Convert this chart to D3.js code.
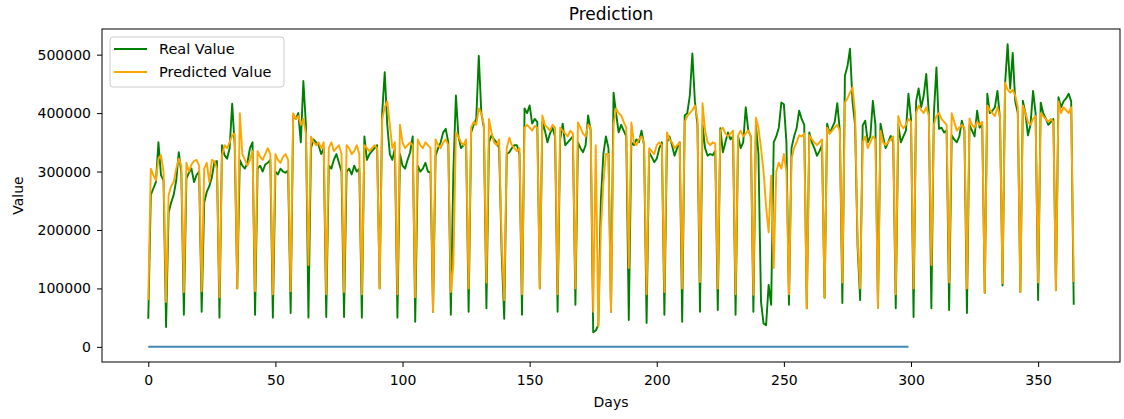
<!DOCTYPE html>
<html><head><meta charset="utf-8">
<script src="https://cdn.jsdelivr.net/npm/d3@7"></script>
<style>
body{margin:0;background:#fff}
svg{display:block}
text{font-family:"DejaVu Sans",sans-serif;fill:#000}
</style>
</head><body>
<svg id="chart" width="1124" height="419"></svg>
<script>
// ---------- data ----------
const realValues = [
48000,260000,271000,282000,350000,294000,285000,
34000,230000,247000,260000,285000,333000,298000,
55000,288000,298000,305000,282000,294000,300000,
60000,247000,265000,275000,290000,316000,318000,
50000,345000,328000,322000,340000,416000,345000,
100000,320000,310000,305000,315000,340000,350000,
55000,305000,310000,300000,312000,315000,320000,
50000,300000,295000,305000,300000,298000,302000,
58000,395000,390000,400000,350000,455000,380000,
50000,340000,355000,350000,345000,330000,340000,
51000,310000,305000,320000,330000,315000,300000,
51000,300000,305000,295000,310000,300000,305000,
50000,360000,320000,330000,335000,340000,345000,
100000,400000,470000,380000,330000,320000,340000,
50000,330000,310000,305000,320000,333000,360000,
43000,310000,300000,305000,315000,300000,298000,
60000,327000,340000,350000,367000,373000,350000,
55000,300000,430000,360000,340000,345000,350000,
60000,367000,380000,390000,498000,400000,375000,
66000,350000,362000,355000,350000,340000,160000,
48000,330000,333000,340000,345000,345000,330000,
55000,408000,400000,413000,382000,390000,385000,
100000,385000,370000,350000,365000,375000,360000,
60000,355000,382000,345000,350000,355000,360000,
72000,350000,340000,333000,345000,396000,370000,
25000,28000,37000,250000,330000,360000,340000,
60000,435000,400000,367000,380000,370000,360000,
46000,350000,345000,355000,350000,370000,345000,
41000,333000,325000,316000,322000,340000,350000,
55000,350000,360000,345000,327000,340000,350000,
43000,396000,400000,430000,502000,420000,380000,
60000,380000,340000,327000,330000,328000,335000,
63000,374000,333000,350000,367000,355000,360000,
55000,360000,340000,350000,410000,370000,360000,
60000,380000,330000,77000,40000,37000,106000,
72000,350000,360000,375000,418000,415000,350000,
72000,340000,360000,374000,404000,390000,380000,
66000,367000,350000,340000,327000,335000,345000,
84000,382000,365000,375000,385000,417000,370000,
75000,464000,480000,510000,420000,380000,170000,
80000,379000,387000,350000,360000,421000,380000,
67000,382000,360000,340000,350000,361000,350000,
66000,380000,350000,360000,370000,433000,390000,
51000,420000,442000,410000,430000,467000,400000,
66000,400000,478000,373000,375000,367000,370000,
63000,362000,355000,350000,360000,387000,370000,
58000,380000,370000,360000,404000,375000,380000,
92000,433000,400000,404000,410000,438000,390000,
105000,450000,518000,442000,503000,420000,400000,
94000,421000,400000,362000,380000,438000,400000,
80000,418000,400000,391000,380000,385000,390000,
97000,427000,410000,420000,425000,433000,420000,
72000
];
const predictedValues = [
80000,305000,294000,285000,322000,328000,300000,
77000,260000,275000,282000,305000,322000,310000,
94000,315000,300000,312000,318000,320000,310000,
95000,305000,315000,282000,320000,318000,305000,
85000,328000,345000,340000,350000,362000,365000,
100000,400000,330000,320000,310000,320000,335000,
95000,335000,325000,320000,330000,340000,330000,
90000,330000,320000,315000,325000,330000,320000,
95000,400000,390000,395000,380000,390000,365000,
140000,360000,350000,345000,350000,340000,350000,
90000,340000,350000,335000,340000,345000,330000,
94000,345000,340000,330000,335000,345000,330000,
90000,345000,340000,335000,340000,345000,340000,
100000,390000,410000,420000,380000,340000,350000,
90000,380000,350000,340000,345000,350000,345000,
85000,355000,345000,340000,350000,345000,340000,
60000,355000,345000,340000,350000,355000,345000,
94000,140000,367000,360000,350000,345000,355000,
100000,375000,385000,380000,408000,400000,380000,
110000,390000,367000,350000,345000,355000,180000,
80000,340000,358000,345000,340000,335000,340000,
90000,375000,380000,375000,370000,378000,375000,
100000,396000,380000,375000,370000,380000,375000,
90000,375000,370000,365000,360000,370000,365000,
100000,384000,375000,365000,360000,380000,375000,
60000,345000,35000,200000,280000,330000,330000,
60000,380000,408000,400000,396000,385000,375000,
135000,384000,350000,345000,355000,360000,350000,
90000,340000,335000,330000,345000,350000,345000,
94000,367000,355000,350000,340000,345000,350000,
100000,385000,395000,400000,405000,413000,390000,
111000,417000,370000,350000,345000,350000,348000,
100000,370000,375000,365000,360000,365000,370000,
90000,362000,370000,360000,365000,370000,360000,
89000,392000,375000,340000,300000,240000,196000,
293000,135000,300000,315000,305000,330000,300000,
90000,322000,340000,350000,362000,360000,365000,
66000,362000,355000,350000,345000,350000,355000,
84000,375000,365000,370000,375000,380000,370000,
110000,418000,425000,435000,444000,400000,180000,
100000,350000,360000,340000,350000,360000,355000,
67000,370000,350000,345000,350000,355000,360000,
90000,395000,380000,374000,380000,390000,385000,
100000,400000,413000,405000,400000,410000,396000,
140000,380000,395000,400000,390000,385000,380000,
110000,400000,385000,370000,375000,380000,375000,
100000,391000,380000,375000,385000,380000,385000,
92000,413000,405000,400000,395000,410000,395000,
109000,452000,440000,435000,440000,430000,410000,
94000,413000,400000,385000,380000,390000,395000,
110000,400000,395000,390000,385000,390000,385000,
97000,420000,400000,410000,405000,400000,410000,
111000
];
const zeroLineValues = Array(300).fill(0);
const xTickValues = [0, 50, 100, 150, 200, 250, 300, 350];
const yTickValues = [0, 100000, 200000, 300000, 400000, 500000];
const seriesNames = ["Real Value", "Predicted Value"];
const seriesColors = ["#008000", "#ffa500"];
const zeroLineColor = "#3f88b6";

// ---------- layout ----------
const W = 1124, H = 419;
const plot = {left: 102, right: 1120, top: 29, bottom: 362};
const svg = d3.select("#chart");

const nMax = realValues.length - 1;
const xPad = 0.05 * nMax;
const x = d3.scaleLinear().domain([-xPad, nMax + xPad]).range([plot.left, plot.right]);
const yMin = 0, yMax = d3.max(realValues.concat(predictedValues));
const yPad = 0.05 * (yMax - yMin);
const y = d3.scaleLinear().domain([yMin - yPad, yMax + yPad]).range([plot.bottom, plot.top]);

const line = d3.line().x((d, i) => x(i)).y(d => y(d));

svg.append("path").datum(realValues).attr("d", line)
  .attr("fill", "none").attr("stroke", seriesColors[0]).attr("stroke-width", 1.9)
  .attr("stroke-linejoin", "round");
svg.append("path").datum(predictedValues).attr("d", line)
  .attr("fill", "none").attr("stroke", seriesColors[1]).attr("stroke-width", 1.9)
  .attr("stroke-linejoin", "round");
svg.append("path").datum(zeroLineValues).attr("d", line)
  .attr("fill", "none").attr("stroke", zeroLineColor).attr("stroke-width", 2);

// axes
const xAxis = d3.axisBottom(x).tickValues(xTickValues).tickSize(5).tickPadding(8).tickFormat(d3.format("d"));
const gx = svg.append("g").attr("transform", `translate(0,${plot.bottom})`).call(xAxis);
const yAxis = d3.axisLeft(y).tickValues(yTickValues).tickSize(5).tickPadding(6).tickFormat(d3.format("d"));
const gy = svg.append("g").attr("transform", `translate(${plot.left},0)`).call(yAxis);
[gx, gy].forEach(g => {
  g.select(".domain").remove();
  g.selectAll("text").attr("font-size", 14).attr("font-family", "DejaVu Sans").attr("fill", "#000");
  g.selectAll("line").attr("stroke", "#000").attr("stroke-width", 1);
});

// frame
svg.append("rect").attr("x", plot.left).attr("y", plot.top)
  .attr("width", plot.right - plot.left).attr("height", plot.bottom - plot.top)
  .attr("fill", "none").attr("stroke", "#000").attr("stroke-width", 1);

// titles
svg.append("text").attr("x", (plot.left + plot.right) / 2).attr("y", 20)
  .attr("text-anchor", "middle").attr("font-size", 17).text("Prediction");
svg.append("text").attr("x", (plot.left + plot.right) / 2).attr("y", 407)
  .attr("text-anchor", "middle").attr("font-size", 14).text("Days");
svg.append("text").attr("transform", `translate(23,${(plot.top + plot.bottom) / 2}) rotate(-90)`)
  .attr("text-anchor", "middle").attr("font-size", 14).text("Value");

// legend
const lg = svg.append("g");
lg.append("rect").attr("x", 110).attr("y", 37).attr("width", 174).attr("height", 50)
  .attr("rx", 3).attr("fill", "#fff").attr("fill-opacity", 0.8)
  .attr("stroke", "#cccccc").attr("stroke-width", 1);
seriesNames.forEach((name, i) => {
  const yy = 49 + i * 23;
  lg.append("line").attr("x1", 114).attr("x2", 147).attr("y1", yy).attr("y2", yy)
    .attr("stroke", seriesColors[i]).attr("stroke-width", 1.9);
  lg.append("text").attr("x", 159).attr("y", yy).attr("dy", "0.36em")
    .attr("font-size", 14.5).text(name);
});
</script>
</body></html>
